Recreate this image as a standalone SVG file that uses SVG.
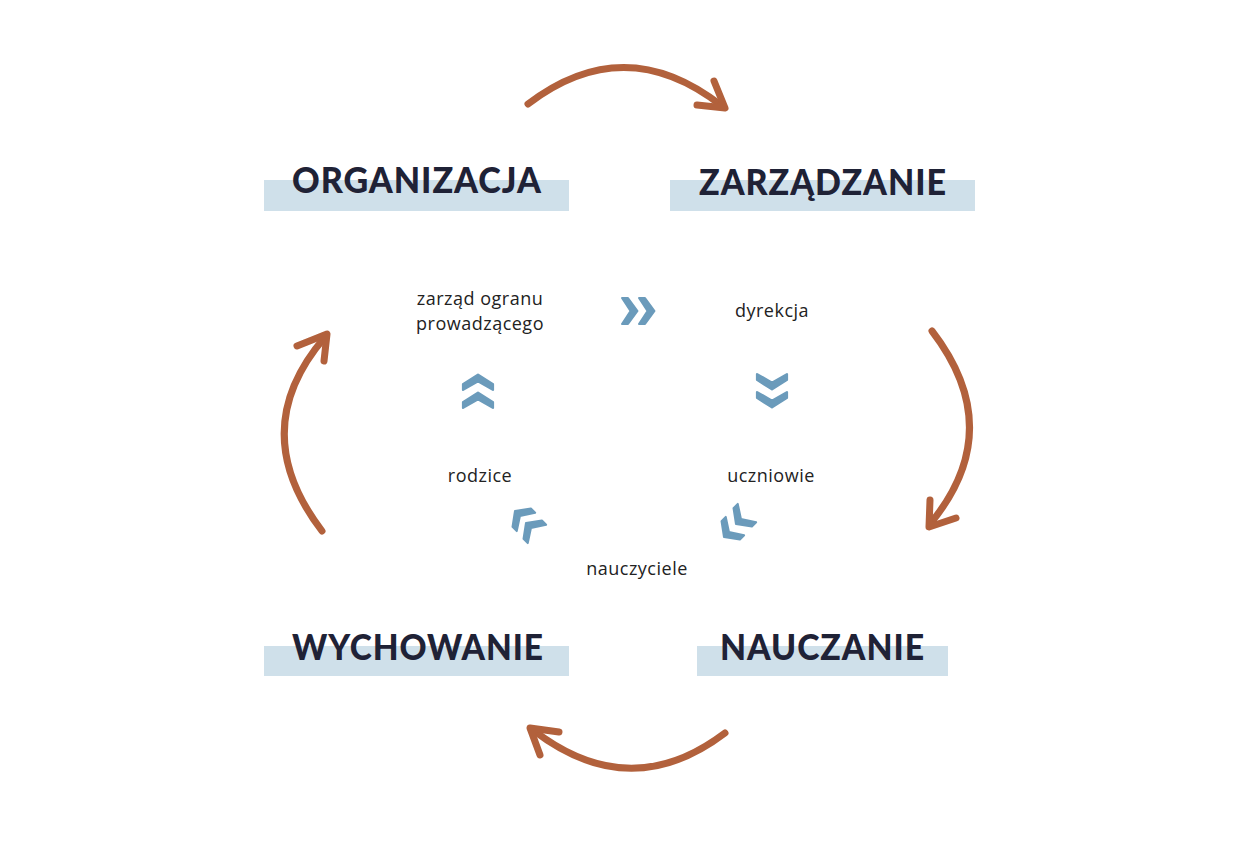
<svg xmlns="http://www.w3.org/2000/svg" width="1258" height="847" viewBox="0 0 1258 847">
<defs>
<style>
.bar{fill:#cfe0ea}
.title{font-family:Lato,"Liberation Sans",sans-serif;font-weight:900;font-size:36px;fill:#1f2236;letter-spacing:1px}
.lbl{font-family:"Open Sans","Liberation Sans",sans-serif;font-size:18px;letter-spacing:0.5px;fill:#222;text-anchor:middle}
.arc{fill:none;stroke:#b2613c;stroke-width:7;stroke-linecap:round;stroke-linejoin:round}
.chev{fill:#6b9bbb}
</style>
<polygon id="chev" points="-7,-13 -1,-13 8.5,0 -1,13 -7,13 1.5,0" stroke="#6b9bbb" stroke-width="2" stroke-linejoin="round"/>
</defs>
<rect width="1258" height="847" fill="#ffffff"/>

<g id="node-organizacja">
<rect class="bar" x="264" y="180" width="305" height="31"/>
<text class="title" x="292" y="193" textLength="250" lengthAdjust="spacingAndGlyphs">ORGANIZACJA</text>
</g>
<g id="node-zarzadzanie">
<rect class="bar" x="670" y="180" width="305" height="31"/>
<text class="title" x="699" y="195" textLength="248" lengthAdjust="spacingAndGlyphs">ZARZĄDZANIE</text>
</g>
<g id="node-wychowanie">
<rect class="bar" x="264" y="646" width="305" height="30"/>
<text class="title" x="292" y="660" textLength="252" lengthAdjust="spacingAndGlyphs">WYCHOWANIE</text>
</g>
<g id="node-nauczanie">
<rect class="bar" x="697" y="646" width="251" height="30"/>
<text class="title" x="720" y="660" textLength="205" lengthAdjust="spacingAndGlyphs">NAUCZANIE</text>
</g>

<g id="node-zarzad">
<text class="lbl" x="480" y="305">zarząd ogranu</text>
<text class="lbl" x="480" y="330">prowadzącego</text>
</g>
<g id="node-dyrekcja"><text class="lbl" x="772" y="317">dyrekcja</text></g>
<g id="node-rodzice"><text class="lbl" x="480" y="482">rodzice</text></g>
<g id="node-uczniowie"><text class="lbl" x="771" y="482">uczniowie</text></g>
<g id="node-nauczyciele"><text class="lbl" x="637" y="575">nauczyciele</text></g>

<g id="connectors">
<g id="cycle-arrows">
<path class="arc" d="M528,104 Q625,30 722,106"/>
<path class="arc" d="M714,81 L725,108 L697,105"/>
<path class="arc" d="M932,331 Q1008,430 930,524"/>
<path class="arc" d="M930,500 L929,527 L956,518"/>
<path class="arc" d="M725,733 Q630,805 533,730"/>
<path class="arc" d="M559,732 L530,728 L540,755"/>
<path class="arc" d="M322,531 Q245,430 325,337"/>
<path class="arc" d="M297,346 L327,334 L324,361"/>
</g>
<g id="chevrons" class="chev">
<use href="#chev" transform="translate(629,311)"/>
<use href="#chev" transform="translate(646,311)"/>
<use href="#chev" transform="translate(772,381) rotate(90) scale(1,1.15)"/>
<use href="#chev" transform="translate(772,399) rotate(90) scale(1,1.15)"/>
<use href="#chev" transform="translate(742,518) rotate(135)"/>
<use href="#chev" transform="translate(730,531) rotate(135)"/>
<use href="#chev" transform="translate(532,529) rotate(225)"/>
<use href="#chev" transform="translate(521,517) rotate(225)"/>
<use href="#chev" transform="translate(478,401) rotate(-90) scale(1,1.15)"/>
<use href="#chev" transform="translate(478,383) rotate(-90) scale(1,1.15)"/>
</g>
</g>
</svg>
